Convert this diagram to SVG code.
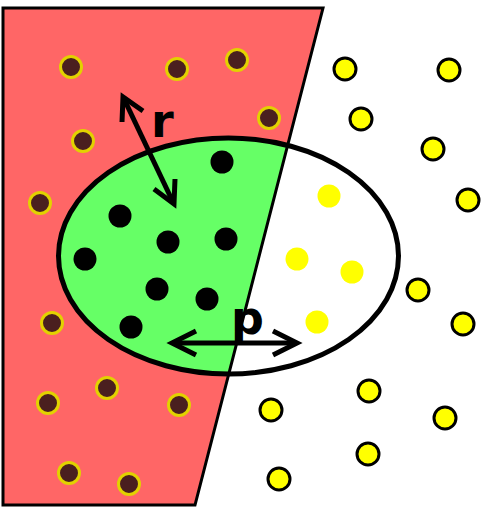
<svg xmlns="http://www.w3.org/2000/svg" width="503" height="516" viewBox="0 0 503 516">
<style>
.brown{fill:#4a1f1f;stroke:#e2d200;stroke-width:3}
.blk{fill:#000}
.yin{fill:#ffff00}
.yout{fill:#ffff00;stroke:#000;stroke-width:3}
.arr{fill:none;stroke:#000;stroke-width:5}
.lbl{font-family:"DejaVu Sans",sans-serif;font-weight:bold;font-size:46px;fill:#000}
</style>
<defs>
<clipPath id="regionClip"><polygon points="3,8 323,8 195,505 3,505"/></clipPath>
</defs>
<g id="region">
<polygon points="3,8 323,8 195,505 3,505" fill="#ff6666"/>
<ellipse cx="228.5" cy="256" rx="170" ry="118" fill="#66ff66" clip-path="url(#regionClip)"/>
<polygon points="3,8 323,8 195,505 3,505" fill="none" stroke="#000" stroke-width="3"/>
</g>
<g id="ball">
<ellipse cx="228.5" cy="256" rx="170" ry="118" fill="none" stroke="#000" stroke-width="5"/>
</g>
<g id="brown-dots">
<circle class="brown" cx="71" cy="67" r="10.5"/>
<circle class="brown" cx="177" cy="69" r="10.5"/>
<circle class="brown" cx="237" cy="60" r="10.5"/>
<circle class="brown" cx="83" cy="141" r="10.5"/>
<circle class="brown" cx="40" cy="203" r="10.5"/>
<circle class="brown" cx="269" cy="118" r="10.5"/>
<circle class="brown" cx="52" cy="323" r="10.5"/>
<circle class="brown" cx="48" cy="403" r="10.5"/>
<circle class="brown" cx="107" cy="388" r="10.5"/>
<circle class="brown" cx="179" cy="405" r="10.5"/>
<circle class="brown" cx="69" cy="473" r="10.5"/>
<circle class="brown" cx="129" cy="484" r="10.5"/>
</g>
<g id="black-dots">
<circle class="blk" cx="222" cy="162" r="11.5"/>
<circle class="blk" cx="120" cy="216" r="11.5"/>
<circle class="blk" cx="168" cy="242" r="11.5"/>
<circle class="blk" cx="226" cy="239" r="11.5"/>
<circle class="blk" cx="85" cy="259" r="11.5"/>
<circle class="blk" cx="157" cy="289" r="11.5"/>
<circle class="blk" cx="207" cy="299" r="11.5"/>
<circle class="blk" cx="131" cy="327" r="11.5"/>
</g>
<g id="yellow-inside">
<circle class="yin" cx="329" cy="196" r="11.5"/>
<circle class="yin" cx="297" cy="259" r="11.5"/>
<circle class="yin" cx="352" cy="272" r="11.5"/>
<circle class="yin" cx="317" cy="322" r="11.5"/>
</g>
<g id="yellow-outside">
<circle class="yout" cx="345" cy="69" r="11"/>
<circle class="yout" cx="449" cy="70" r="11"/>
<circle class="yout" cx="361" cy="119" r="11"/>
<circle class="yout" cx="433" cy="149" r="11"/>
<circle class="yout" cx="468" cy="200" r="11"/>
<circle class="yout" cx="418" cy="290" r="11"/>
<circle class="yout" cx="463" cy="324" r="11"/>
<circle class="yout" cx="369" cy="391" r="11"/>
<circle class="yout" cx="271" cy="410" r="11"/>
<circle class="yout" cx="445" cy="418" r="11"/>
<circle class="yout" cx="368" cy="454" r="11"/>
<circle class="yout" cx="279" cy="479" r="11"/>
</g>
<g id="connectors">
<path class="arr" d="M125,101 L172,200"/>
<path class="arr" d="M143,111 L123,97 L122,122"/>
<path class="arr" d="M175,179 L174,204 L154,189"/>
<path class="arr" d="M176,343 L293,343"/>
<path class="arr" d="M196,331 L172,343 L196,355"/>
<path class="arr" d="M273,331 L297,343 L273,355"/>
</g>
<g id="labels">
<text class="lbl" x="151" y="137">r</text>
<text class="lbl" x="231" y="334">p</text>
</g>
</svg>
